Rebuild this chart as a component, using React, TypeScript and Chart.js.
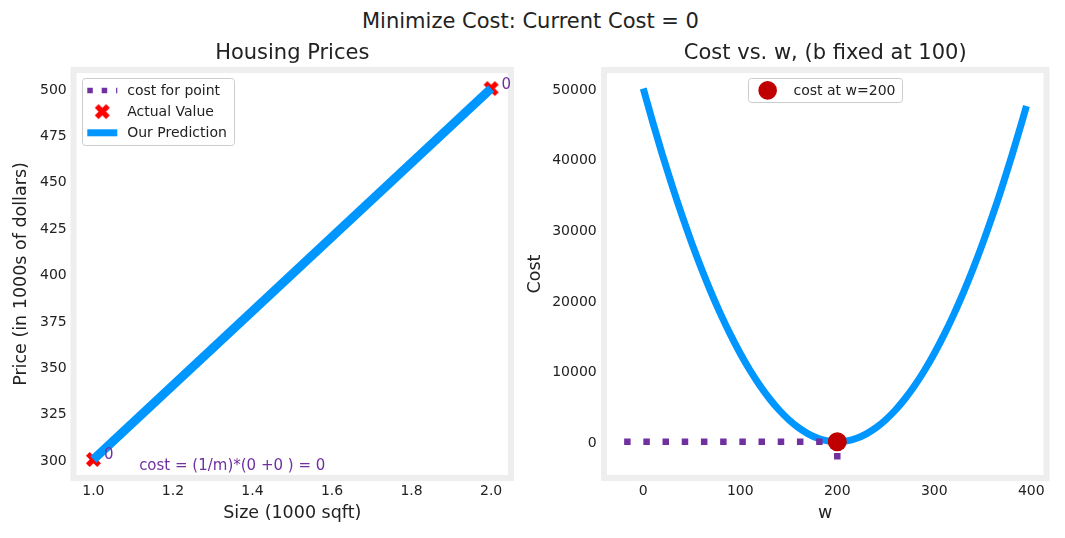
import React, { useEffect, useRef } from 'react';
import { Chart, registerables } from 'chart.js';

Chart.register(...registerables);

const FONT = '"DejaVu Sans", "Liberation Sans", sans-serif';
const BLUE = '#0096ff';
const PURPLE = '#7030a0';
const RED = '#ff0000';
const DARKRED = '#c00000';
const FRAME = '#eeeeee';
const TEXT = '#222222';

// ---- text ----
const suptitleText = 'Minimize Cost: Current Cost = 0';
const leftTitle = 'Housing Prices';
const rightTitle = 'Cost vs. w, (b fixed at 100)';
const leftXLabel = 'Size (1000 sqft)';
const leftYLabel = 'Price (in 1000s of dollars)';
const rightXLabel = 'w';
const rightYLabel = 'Cost';
const costText = 'cost = (1/m)*(0 +0 ) = 0';

// ---- left panel data ----
const xTrain = [1.0, 2.0];
const yTrain = [300, 500];
const yPred = [300, 500];
const pointCosts = [0, 0];
const leftXTicks = [1.0, 1.2, 1.4, 1.6, 1.8, 2.0];
const leftYTicks = [300, 325, 350, 375, 400, 425, 450, 475, 500];

// ---- right panel data ----
const wValues = [0, 10, 20, 30, 40, 50, 60, 70, 80, 90, 100, 110, 120, 130, 140, 150, 160, 170, 180, 190,
  200, 210, 220, 230, 240, 250, 260, 270, 280, 290, 300, 310, 320, 330, 340, 350, 360, 370, 380, 390, 395];
const costValues = [50000, 45125, 40500, 36125, 32000, 28125, 24500, 21125, 18000, 15125, 12500, 10125, 8000,
  6125, 4500, 3125, 2000, 1125, 500, 125, 0, 125, 500, 1125, 2000, 3125, 4500, 6125, 8000, 10125, 12500,
  15125, 18000, 21125, 24500, 28125, 32000, 36125, 40500, 45125, 47531];
const currentW = 200;
const currentCost = 0;
const hlineStartW = -19.75;
const vlineStartCost = -2500;
const rightXTicks = [0, 100, 200, 300, 400];
const rightYTicks = [0, 10000, 20000, 30000, 40000, 50000];

function makeXMarker(size: number, color: string) {
  const c = document.createElement('canvas');
  const s = Math.ceil(size) + 2;
  c.width = s;
  c.height = s;
  const g = c.getContext('2d')!;
  const u = size / 4;
  const cx = s / 2, cy = s / 2;
  const pts = [[-1, -2], [0, -1], [1, -2], [2, -1], [1, 0], [2, 1], [1, 2], [0, 1], [-1, 2], [-2, 1], [-1, 0], [-2, -1]];
  g.beginPath();
  pts.forEach(([px, py], i) => {
    const X = cx + px * u, Y = cy + py * u;
    if (i) g.lineTo(X, Y); else g.moveTo(X, Y);
  });
  g.closePath();
  g.fillStyle = color;
  g.fill();
  return c;
}

const framePlugin = {
  id: 'frame',
  afterDatasetsDraw(chart: any) {
    const { ctx, chartArea: ca } = chart;
    ctx.save();
    ctx.strokeStyle = FRAME;
    ctx.lineWidth = 6;
    ctx.strokeRect(ca.left, ca.top, ca.right - ca.left, ca.bottom - ca.top);
    ctx.restore();
  },
};

const notesPlugin = {
  id: 'notes',
  afterDatasetsDraw(chart: any) {
    const { ctx, chartArea: ca } = chart;
    const x = chart.scales.x, y = chart.scales.y;
    ctx.save();
    ctx.fillStyle = PURPLE;
    ctx.font = `15px ${FONT}`;
    ctx.textBaseline = 'alphabetic';
    ctx.textAlign = 'left';
    xTrain.forEach((xv, i) => {
      const ym = yTrain[i] + (yPred[i] - yTrain[i]) / 2;
      ctx.fillText(pointCosts[i].toFixed(0), x.getPixelForValue(xv) + 10.5, y.getPixelForValue(ym));
    });
    ctx.fillText(costText, ca.left + 0.15 * (ca.right - ca.left), ca.bottom - 0.02 * (ca.bottom - ca.top));
    ctx.restore();
  },
};

const legendPlugin = {
  id: 'mplLegend',
  afterDraw(chart: any, _args: any, opts: any) {
    if (!opts || !opts.items) return;
    const { ctx, chartArea: ca } = chart;
    ctx.save();
    ctx.font = `14px ${FONT}`;
    const items = opts.items.map((it: any) => ({ ...it, label: chart.data.datasets[it.dataset].label }));
    const maxW = Math.max(...items.map((it: any) => ctx.measureText(it.label).width));
    const w = 45.5 + maxW + 7;
    const h = 24.4 + (items.length - 1) * 21.2;
    const x0 = opts.align === 'center' ? (ca.left + ca.right) / 2 - w / 2 : ca.left + 8.2;
    const y0 = ca.top + 8.2;
    ctx.beginPath();
    ctx.roundRect(Math.round(x0) + 0.5, Math.round(y0) + 0.5, Math.round(w), Math.round(h), 3);
    ctx.fillStyle = 'rgba(255,255,255,0.8)';
    ctx.fill();
    ctx.strokeStyle = '#cccccc';
    ctx.lineWidth = 1;
    ctx.stroke();
    items.forEach((it: any, k: number) => {
      const cy = y0 + 12.2 + k * 21.2;
      const hx = x0 + 5.6;
      const ds = chart.data.datasets[it.dataset];
      if (it.type === 'dotted') {
        ctx.save();
        ctx.beginPath();
        ctx.setLineDash([5.5, 8.9]);
        ctx.lineCap = 'butt';
        ctx.lineWidth = 5.5;
        ctx.strokeStyle = ds.borderColor;
        ctx.moveTo(hx, cy);
        ctx.lineTo(hx + 30, cy);
        ctx.stroke();
        ctx.restore();
      } else if (it.type === 'line') {
        ctx.save();
        ctx.beginPath();
        ctx.lineCap = 'butt';
        ctx.lineWidth = 7;
        ctx.strokeStyle = ds.borderColor;
        ctx.moveTo(hx, cy);
        ctx.lineTo(hx + 30, cy);
        ctx.stroke();
        ctx.restore();
      } else if (it.type === 'image') {
        const img = ds.pointStyle;
        ctx.drawImage(img, hx + 15 - img.width / 2, cy - img.height / 2);
      } else if (it.type === 'circle') {
        ctx.beginPath();
        ctx.arc(hx + 14, cy, 9.3, 0, Math.PI * 2);
        ctx.fillStyle = ds.backgroundColor;
        ctx.fill();
      }
      ctx.fillStyle = TEXT;
      ctx.textBaseline = 'middle';
      ctx.textAlign = 'left';
      ctx.fillText(it.label, x0 + 45.5, cy + 1);
    });
    ctx.restore();
  },
};

function scaleOpts(o: any) {
  return {
    type: 'linear',
    position: o.axis === 'x' ? 'bottom' : 'left',
    min: o.min,
    max: o.max,
    bounds: 'data',
    grid: { display: false, drawTicks: false },
    border: { display: false },
    afterBuildTicks: (s: any) => { s.ticks = o.ticks.map((v: number) => ({ value: v })); },
    afterFit: (s: any) => { if (o.axis === 'x') s.height = o.size; else s.width = o.size; },
    ticks: {
      padding: o.tickPad,
      labelOffset: o.axis === 'x' ? 0 : 1.5,
      color: TEXT,
      font: { family: FONT, size: 14 },
      autoSkip: false,
      maxRotation: 0,
      minRotation: 0,
      callback: o.fmt,
    },
    title: {
      display: true,
      text: o.title,
      color: TEXT,
      font: { family: FONT, size: 17.5 },
      padding: o.titlePad,
    },
  };
}

function titleOpts(text: string) {
  return {
    display: true,
    text,
    fullSize: false,
    color: TEXT,
    font: { family: FONT, size: 21, weight: 'normal' },
    padding: { top: 41, bottom: 3.8 },
  };
}

function leftConfig(xMarker: HTMLCanvasElement): any {
  const vlineData: any[] = [];
  xTrain.forEach((xv, i) => {
    vlineData.push({ x: xv, y: yTrain[i] }, { x: xv, y: yPred[i] }, { x: xv, y: null });
  });
  return {
    type: 'scatter',
    data: {
      datasets: [
        {
          label: 'Our Prediction',
          data: xTrain.map((xv, i) => ({ x: xv, y: yPred[i] })),
          showLine: true,
          borderColor: BLUE,
          backgroundColor: BLUE,
          borderWidth: 9,
          borderCapStyle: 'butt',
          pointRadius: 0,
        },
        {
          label: 'Actual Value',
          data: xTrain.map((xv, i) => ({ x: xv, y: yTrain[i] })),
          showLine: false,
          pointStyle: xMarker,
          pointRadius: 8,
          backgroundColor: RED,
          borderColor: RED,
        },
        {
          label: 'cost for point',
          data: vlineData,
          showLine: true,
          spanGaps: false,
          borderColor: PURPLE,
          backgroundColor: PURPLE,
          borderWidth: 6.5,
          borderDash: [6.5, 12.7],
          pointRadius: 0,
        },
      ],
    },
    options: {
      responsive: false,
      animation: false,
      events: [],
      layout: { padding: { left: 0, right: 6, top: 0, bottom: 0 } },
      scales: {
        x: scaleOpts({ axis: 'x', min: 0.95, max: 2.05, ticks: leftXTicks, fmt: (v: number) => v.toFixed(1), size: 60, tickPad: 4.6, title: leftXLabel, titlePad: { top: 0, bottom: 14.5 } }),
        y: scaleOpts({ axis: 'y', min: 290, max: 510, ticks: leftYTicks, fmt: (v: number) => String(v), size: 73.5, tickPad: 6.8, title: leftYLabel, titlePad: { top: 11.2, bottom: 0 } }),
      },
      plugins: {
        legend: { display: false },
        tooltip: { enabled: false },
        title: titleOpts(leftTitle),
        mplLegend: { align: 'left', items: [{ dataset: 2, type: 'dotted' }, { dataset: 1, type: 'image' }, { dataset: 0, type: 'line' }] },
      },
    },
    plugins: [framePlugin, notesPlugin, legendPlugin],
  };
}

function rightConfig(): any {
  return {
    type: 'scatter',
    data: {
      datasets: [
        {
          label: 'cost at w=200',
          data: [{ x: currentW, y: currentCost }],
          showLine: false,
          pointStyle: 'circle',
          pointRadius: 9.5,
          borderWidth: 0,
          backgroundColor: DARKRED,
          borderColor: DARKRED,
        },
        {
          label: 'cost level',
          data: [{ x: hlineStartW, y: currentCost }, { x: currentW, y: currentCost }],
          showLine: true,
          borderColor: PURPLE,
          backgroundColor: PURPLE,
          borderWidth: 6.5,
          borderDash: [6.5, 12.7],
          borderCapStyle: 'butt',
          pointRadius: 0,
        },
        {
          label: 'w level',
          data: [{ x: currentW, y: vlineStartCost }, { x: currentW, y: currentCost }],
          showLine: true,
          borderColor: PURPLE,
          backgroundColor: PURPLE,
          borderWidth: 6.5,
          borderDash: [6.5, 12.7],
          borderCapStyle: 'butt',
          pointRadius: 0,
        },
        {
          label: 'cost curve',
          data: wValues.map((wv, i) => ({ x: wv, y: costValues[i] })),
          showLine: true,
          borderColor: BLUE,
          backgroundColor: BLUE,
          borderWidth: 7,
          cubicInterpolationMode: 'monotone',
          pointRadius: 0,
        },
      ],
    },
    options: {
      responsive: false,
      animation: false,
      events: [],
      layout: { padding: { left: 0, right: 18.5, top: 0, bottom: 0 } },
      scales: {
        x: scaleOpts({ axis: 'x', min: -40.5, max: 415.7, ticks: rightXTicks, fmt: (v: number) => String(v), size: 60, tickPad: 4.6, title: rightXLabel, titlePad: { top: 0, bottom: 14.5 } }),
        y: scaleOpts({ axis: 'y', min: -5125, max: 52625, ticks: rightYTicks, fmt: (v: number) => String(v), size: 84, tickPad: 7.3, title: rightYLabel, titlePad: { top: 4.5, bottom: 0 } }),
      },
      plugins: {
        legend: { display: false },
        tooltip: { enabled: false },
        title: titleOpts(rightTitle),
        mplLegend: { align: 'center', items: [{ dataset: 0, type: 'circle' }] },
      },
    },
    plugins: [framePlugin, legendPlugin],
  };
}

export default function App() {
  const refA = useRef<HTMLCanvasElement>(null);
  const refB = useRef<HTMLCanvasElement>(null);
  useEffect(() => {
    const xMarker = makeXMarker(15, RED);
    const a = new Chart(refA.current!, leftConfig(xMarker));
    const b = new Chart(refB.current!, rightConfig());
    return () => {
      a.destroy();
      b.destroy();
    };
  }, []);
  return (
    <div style={{ position: 'fixed', left: 0, top: 0, width: 1065, height: 538, background: '#ffffff', overflow: 'hidden' }}>
      <div
        style={{
          position: 'absolute', left: 0, top: 9, width: 1061, textAlign: 'center',
          fontFamily: FONT, fontSize: 21, lineHeight: '25px', color: TEXT,
        }}
      >
        {suptitleText}
      </div>
      <canvas ref={refA} width={520} height={538} style={{ position: 'absolute', left: 0, top: 0 }} />
      <canvas ref={refB} width={545} height={538} style={{ position: 'absolute', left: 520, top: 0 }} />
    </div>
  );
}
